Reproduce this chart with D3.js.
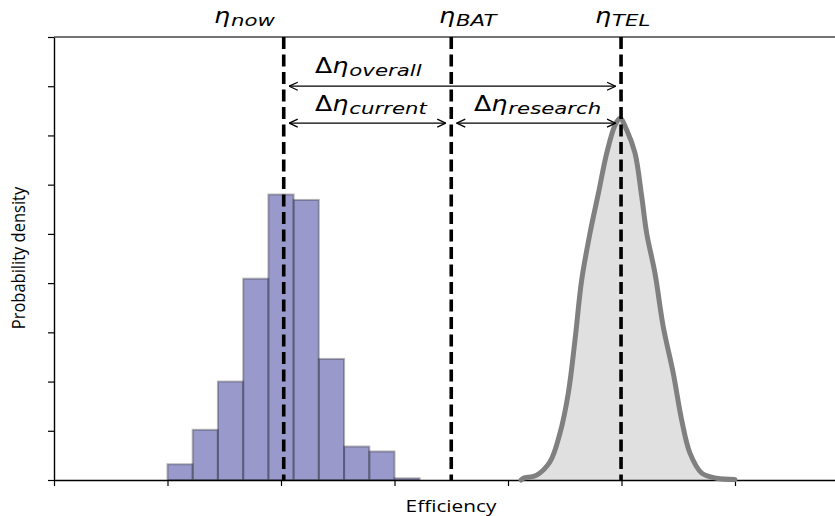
<!DOCTYPE html>
<html>
<head>
<meta charset="utf-8">
<script src="https://cdn.jsdelivr.net/npm/d3@7"></script>
<style>
  html, body { margin: 0; padding: 0; background: #fff; }
  svg { display: block; }
</style>
</head>
<body>
<svg id="chart" width="835" height="516"></svg>
<script>
// Histogram of current efficiencies (density), bin edges and heights
const binEdges = [0.1, 0.1222, 0.1444, 0.1667, 0.1889, 0.2111, 0.2333, 0.2556, 0.2778, 0.3, 0.3222];
const binDensity = [0.32, 1.02, 2.0, 4.09, 5.80, 5.69, 2.46, 0.68, 0.58, 0.035];

// Kernel density estimate of the theoretical efficiency limit
const kdeX = [0.4115, 0.4135, 0.4253, 0.4370, 0.4458, 0.4531, 0.4590, 0.4649, 0.4722, 0.4796,
              0.4870, 0.4943, 0.4987, 0.5046, 0.5119, 0.5178, 0.5222, 0.5295, 0.5368, 0.5456,
              0.5530, 0.5604, 0.5707, 0.5839, 0.6000];
const kdeY = [0.0, 0.035, 0.10, 0.37, 0.95, 1.76, 2.84, 4.06, 5.01, 5.82,
              6.64, 7.21, 7.35, 7.11, 6.64, 5.76, 5.01, 4.20, 3.11, 2.17,
              1.22, 0.54, 0.14, 0.035, 0.01];

// Reference efficiencies marked by dashed lines
const markerNames = ["now", "BAT", "TEL"];
const markerValues = [0.2024, 0.35, 0.4996];

const xTickValues = [0, 0.1, 0.2, 0.3, 0.4, 0.5, 0.6, 0.7];
const yTickValues = [0, 1, 2, 3, 4, 5, 6, 7, 8, 9];

const svg = d3.select("#chart");
const plotLeft = 54, plotTop = 37, plotBottom = 480, plotRight = 848.5;

const x = d3.scaleLinear().domain([0, 0.7]).range([plotLeft, plotRight]);
const y = d3.scaleLinear().domain([0, 9]).range([plotBottom, plotTop]);

const mk = {};
markerNames.forEach((n, i) => mk[n] = markerValues[i]);

// Histogram bars
const bars = binDensity.map((d, i) => ({x0: binEdges[i], x1: binEdges[i + 1], v: d}));
svg.append("g").selectAll("rect").data(bars).join("rect")
  .attr("x", d => x(d.x0))
  .attr("y", d => y(d.v))
  .attr("width", d => x(d.x1) - x(d.x0))
  .attr("height", d => y(0) - y(d.v))
  .attr("fill", "#333399").attr("fill-opacity", 0.5)
  .attr("stroke", "#222").attr("stroke-opacity", 0.32).attr("stroke-width", 2);

// KDE curve with filled area
const kde = kdeX.map((v, i) => [v, kdeY[i]]);
svg.append("path").datum(kde)
  .attr("d", d3.area().x(d => x(d[0])).y0(y(0)).y1(d => y(d[1])).curve(d3.curveCatmullRom))
  .attr("fill", "#e0e0e0");

// Axes
const xAxis = svg.append("g").attr("transform", `translate(0,${plotBottom})`)
  .call(d3.axisBottom(x).tickValues(xTickValues).tickFormat("").tickSize(6).tickSizeOuter(0));
const yAxis = svg.append("g").attr("transform", `translate(${plotLeft},0)`)
  .call(d3.axisLeft(y).tickValues(yTickValues).tickFormat("").tickSize(6).tickSizeOuter(0));
[xAxis, yAxis].forEach(a => {
  a.select(".domain").attr("stroke", "#000").attr("stroke-width", 1.4);
  a.selectAll(".tick line").attr("stroke", "#000").attr("stroke-width", 1.2);
});
svg.append("line")
  .attr("x1", plotLeft).attr("x2", plotRight).attr("y1", plotTop).attr("y2", plotTop)
  .attr("stroke", "#444").attr("stroke-width", 1.6);

svg.append("path").datum(kde)
  .attr("d", d3.line().x(d => x(d[0])).y(d => y(d[1])).curve(d3.curveCatmullRom))
  .attr("fill", "none").attr("stroke", "#808080").attr("stroke-width", 5)
  .attr("stroke-linejoin", "round").attr("stroke-linecap", "round");

// Dashed reference lines
svg.append("g").selectAll("line").data(markerValues).join("line")
  .attr("x1", d => x(d)).attr("x2", d => x(d))
  .attr("y1", y(9)).attr("y2", y(0))
  .attr("stroke", "#000").attr("stroke-width", 3.6)
  .attr("stroke-dasharray", "12,5.5");

// Double-headed arrows between reference lines
const defs = svg.append("defs");
defs.append("marker").attr("id", "head").attr("viewBox", "0 0 10 10")
  .attr("refX", 9.5).attr("refY", 5).attr("markerWidth", 10).attr("markerHeight", 10)
  .attr("markerUnits", "userSpaceOnUse").attr("orient", "auto-start-reverse")
  .append("path").attr("d", "M1,1 L9.5,5 L1,9").attr("fill", "none")
  .attr("stroke", "#000").attr("stroke-width", 1.3);

const arrows = [
  {from: "now", to: "TEL", yv: 8.0},
  {from: "now", to: "BAT", yv: 7.25},
  {from: "BAT", to: "TEL", yv: 7.25}
];
svg.append("g").selectAll("line").data(arrows).join("line")
  .attr("x1", d => x(mk[d.from]) + 5.5).attr("x2", d => x(mk[d.to]) - 5.5)
  .attr("y1", d => y(d.yv)).attr("y2", d => y(d.yv))
  .attr("stroke", "#000").attr("stroke-width", 1.3)
  .attr("marker-start", "url(#head)").attr("marker-end", "url(#head)");

// Math-style labels: main symbol(s) plus italic subscript, stretched horizontally
const FONT = "'DejaVu Sans', sans-serif";
function mathLabel(x0, base, parts, sub, mainSize, subSize) {
  const g = svg.append("g");
  const main = g.append("text")
    .attr("transform", `translate(${x0},${base}) scale(1.15,1)`)
    .attr("font-family", FONT).attr("font-size", mainSize).attr("fill", "#000");
  parts.forEach(p => main.append("tspan").text(p.t).attr("font-style", p.i ? "italic" : "normal"));
  const w = main.node().getComputedTextLength() * 1.15;
  g.append("text")
    .attr("transform", `translate(${x0 + w + 1},${base + 3}) scale(1.33,1)`)
    .attr("font-family", FONT).attr("font-size", subSize).attr("font-style", "italic")
    .attr("fill", "#000").text(sub);
}
const eta = [{t: "η", i: true}];
const deta = [{t: "Δ", i: false}, {t: "η", i: true}];
mathLabel(214, 23, eta, "now", 22, 16);
mathLabel(439, 23, eta, "BAT", 22, 16);
mathLabel(595, 23, eta, "TEL", 22, 16);
mathLabel(315, 73, deta, "overall", 22, 16);
mathLabel(315, 110.5, deta, "current", 22, 16);
mathLabel(474, 111, deta, "research", 22, 16);

// Axis titles
svg.append("text")
  .attr("transform", `translate(451,512) scale(1.3,1)`)
  .attr("text-anchor", "middle")
  .attr("font-family", "'Open Sans', sans-serif").attr("font-size", 16)
  .attr("fill", "#000").text("Efficiency");
svg.append("text")
  .attr("transform", `translate(25,258) scale(1.15,1) rotate(-90)`)
  .attr("text-anchor", "middle")
  .attr("font-family", "'Open Sans', sans-serif").attr("font-size", 16.5)
  .attr("fill", "#000").text("Probability density");
</script>
</body>
</html>
